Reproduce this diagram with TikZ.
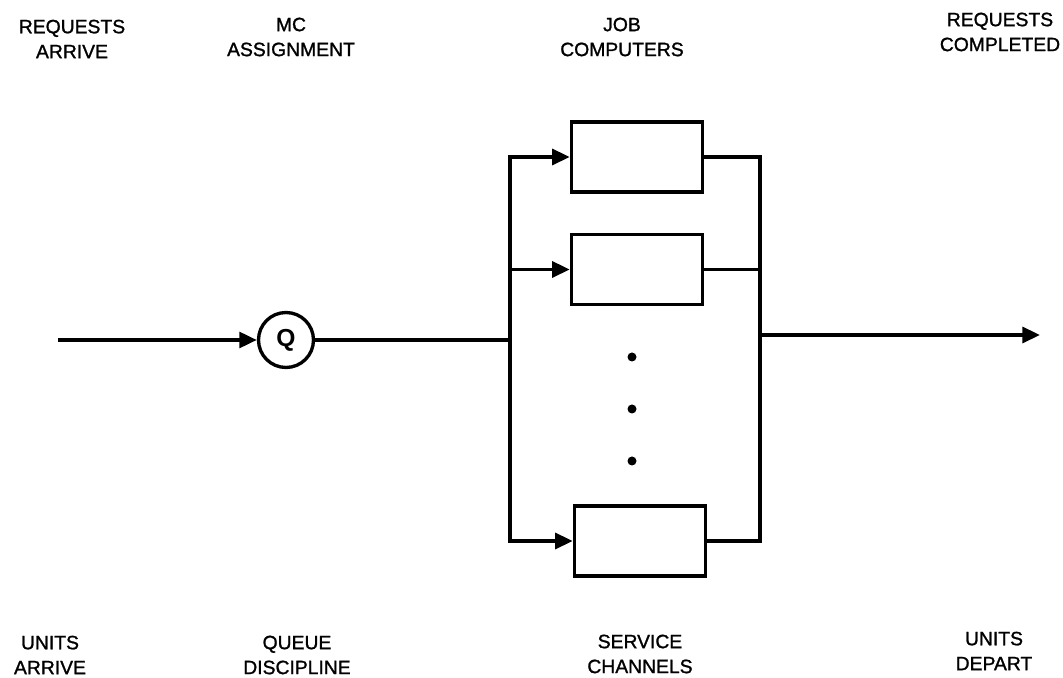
\documentclass[tikz,border=0pt]{standalone}
\usepackage{fontspec}
\setmainfont{Liberation Sans}
\newfontfamily\lettering{Liberation Sans}[FakeBold=1.2]
\usetikzlibrary{arrows.meta, positioning, calc}

\begin{document}
\begin{tikzpicture}[
    x=0.02cm, y=-0.02cm,
    computer/.style={draw, rectangle, line width=2pt, minimum width=2.62cm,
                     minimum height=1.4cm, inner sep=0pt},
    queue/.style={draw, circle, line width=1.9pt, minimum size=1.1cm,
                  inner sep=0pt, font=\fontsize{14}{14}\selectfont\bfseries},
    label/.style={align=center, inner sep=1pt,
                  font=\fontsize{11}{14.2}\selectfont\lettering},
    wire/.style={line width=2pt},
    arrow/.style={wire, -{Triangle[length=10pt, width=9pt]}},
]
\useasboundingbox (0,0) rectangle (1063,678);

% top labels
\node[label] (reqin)  at (72,39)   {REQUESTS\\ARRIVE};
\node[label] (mc)     at (291,37)  {MC\\ASSIGNMENT};
\node[label] (job)    at (622,37)  {JOB\\COMPUTERS};
\node[label] (reqout) at (1000,32) {REQUESTS\\COMPLETED};

% bottom labels
\node[label] (unitsin)  at (50,655)  {UNITS\\ARRIVE};
\node[label] (qdisc)    at (297,655) {QUEUE\\DISCIPLINE};
\node[label] (service)  at (640,654) {SERVICE\\CHANNELS};
\node[label] (unitsout) at (994,651) {UNITS\\DEPART};

% queue and service channels
\node[queue] (q) at (286,340) {Q};
\node[computer] (box1) at (637,157) {};
\node[computer, below=0.78cm of box1] (box2) {};
\node[computer] (boxn) at (640,541) {};
\foreach \y [count=\i] in {357,409,461}
    \fill (632,\y) circle (4.5) coordinate (dot\i);

\coordinate (in)   at (58,340);
\coordinate (lbus) at (510,340);
\coordinate (rbus) at (760,335);
\coordinate (out)  at (1040,335);

% connectors
\draw[arrow] (in) -- (q);
\draw[wire] (q) -- (lbus);
\draw[arrow] (lbus) |- (box1.west);
\draw[arrow] (lbus |- box2) -- (box2.west);
\draw[arrow] (lbus) |- (boxn.west);
\draw[wire] (box1.east) -| (rbus);
\draw[wire] (box2.east) -- (box2 -| rbus);
\draw[wire] (boxn.east) -| (rbus);
\draw[arrow] (rbus) -- (out);
\end{tikzpicture}
\end{document}
